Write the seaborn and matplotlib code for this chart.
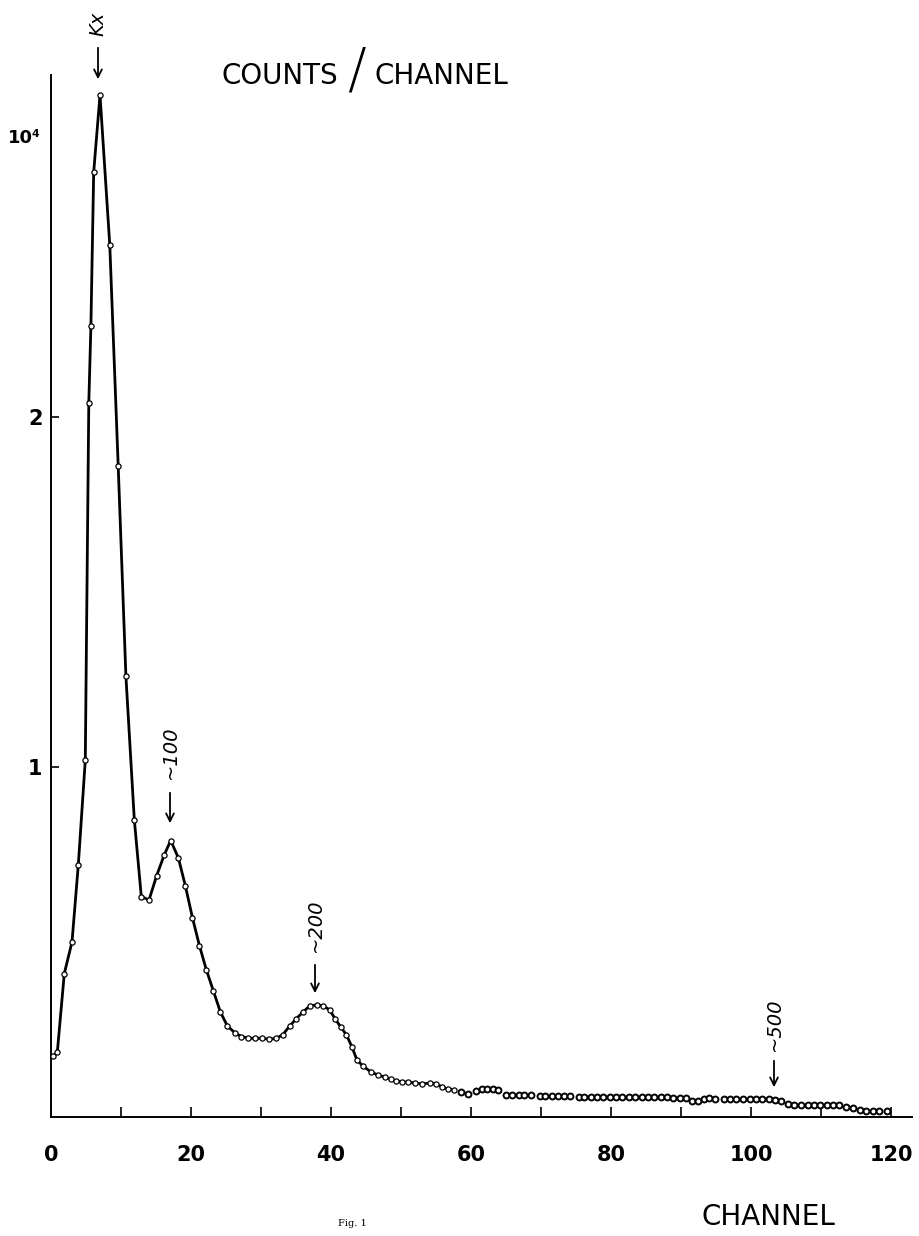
import numpy as np
import pandas as pd
import matplotlib
matplotlib.use("Agg")
import matplotlib.pyplot as plt
import seaborn as sns

sns.set_theme(style="white")
plt.rcParams['font.family'] = ['DejaVu Sans']
plt.rcParams['text.color'] = 'black'
plt.rcParams['xtick.color'] = 'black'
plt.rcParams['ytick.color'] = 'black'
plt.rcParams['axes.labelcolor'] = 'black'

# ---- data (counts in units of 10^4) ----
line_channel = [0.3, 0.9, 1.9, 3.0, 3.9, 4.9, 5.4, 5.7, 6.1, 7.0, 8.4, 9.6, 10.7, 11.9,
                12.9, 14.0, 15.1, 16.2, 17.1, 18.2, 19.2, 20.2, 21.2, 22.2, 23.2, 24.2,
                25.2, 26.3, 27.2, 28.2, 29.2, 30.2, 31.2, 32.2, 33.1, 34.1, 35.0, 36.0,
                37.0, 38.0, 38.9, 39.8, 40.6, 41.4, 42.2, 43.0, 43.7, 44.6, 45.7, 46.7,
                47.7, 48.5, 49.3, 50.2, 51.0, 52.0, 53.0, 54.2, 55.0, 55.9, 56.7, 57.6]
line_counts = [0.175, 0.185, 0.41, 0.50, 0.72, 1.02, 2.04, 2.26, 2.70, 2.92, 2.49, 1.86,
               1.26, 0.85, 0.63, 0.62, 0.69, 0.75, 0.79, 0.74, 0.66, 0.57, 0.49, 0.42,
               0.36, 0.30, 0.26, 0.24, 0.23, 0.225, 0.225, 0.225, 0.222, 0.225, 0.235,
               0.26, 0.28, 0.30, 0.318, 0.32, 0.318, 0.306, 0.28, 0.257, 0.235, 0.20,
               0.163, 0.145, 0.129, 0.12, 0.114, 0.108, 0.103, 0.10, 0.10, 0.097, 0.095,
               0.097, 0.094, 0.086, 0.08, 0.077]

tail_channel = [58.6, 59.6, 60.7, 61.5, 62.3, 63.1, 63.9, 65.0, 65.9, 66.8, 67.6, 68.5,
                69.8, 70.6, 71.5, 72.4, 73.3, 74.2, 75.4, 76.2, 77.1, 78.0, 78.9, 79.8,
                80.7, 81.6, 82.5, 83.4, 84.4, 85.3, 86.2, 87.1, 88.0, 88.9, 89.8, 90.7,
                91.6, 92.4, 93.3, 94.0, 94.9, 96.1, 97.0, 97.9, 98.8, 99.8, 100.7, 101.6,
                102.5, 103.4, 104.3, 105.3, 106.2, 107.2, 108.1, 109.0, 109.9, 110.8,
                111.7, 112.6, 113.6, 114.5, 115.5, 116.4, 117.4, 118.3, 119.4]
tail_counts = [0.072, 0.066, 0.074, 0.079, 0.080, 0.080, 0.077, 0.064, 0.064, 0.064, 0.064,
               0.064, 0.059, 0.059, 0.059, 0.059, 0.059, 0.059, 0.058, 0.058, 0.058, 0.058,
               0.058, 0.058, 0.057, 0.057, 0.057, 0.057, 0.057, 0.056, 0.056, 0.056, 0.056,
               0.055, 0.055, 0.053, 0.045, 0.045, 0.052, 0.054, 0.052, 0.052, 0.052, 0.052,
               0.052, 0.052, 0.052, 0.052, 0.052, 0.050, 0.045, 0.038, 0.035, 0.033, 0.033,
               0.033, 0.033, 0.033, 0.033, 0.033, 0.030, 0.026, 0.020, 0.018, 0.018, 0.018,
               0.018]

x_ticks = [0, 20, 40, 60, 80, 100, 120]
x_minor = [10, 30, 50, 70, 90, 110]
y_ticks = [1, 2]
y_ticklabels = ["1", "2"]

# ---- figure ----
W, H = 919, 1236
fig = plt.figure(figsize=(W / 100, H / 100), dpi=100)
fig.patch.set_facecolor("white")
ax = fig.add_axes([51 / W, 119 / H, 861 / W, 1042 / H])
ax.set_facecolor("white")

line_df = pd.DataFrame({"channel": line_channel, "counts": line_counts})
tail_df = pd.DataFrame({"channel": tail_channel, "counts": tail_counts})

sns.lineplot(data=line_df, x="channel", y="counts", ax=ax, color="black",
             linewidth=2.0, sort=False, zorder=2)
sns.scatterplot(data=line_df, x="channel", y="counts", ax=ax, marker="o", s=14,
                facecolor="white", edgecolor="black", linewidth=0.9, zorder=3)
sns.scatterplot(data=tail_df, x="channel", y="counts", ax=ax, marker="o", s=18,
                facecolor="white", edgecolor="black", linewidth=1.4, zorder=3)

ax.set_xlim(0, 861 / 7)
ax.set_ylim(0, 1042 / 350)
ax.set_xlabel("")
ax.set_ylabel("")
sns.despine(ax=ax)
for s in ["left", "bottom"]:
    ax.spines[s].set_color("black")
    ax.spines[s].set_linewidth(1.4)

ax.set_xticks(x_ticks)
ax.set_xticks(x_minor, minor=True)
ax.set_xticklabels([str(t) for t in x_ticks], fontweight="bold", fontsize=15)
ax.set_yticks(y_ticks)
ax.set_yticklabels(y_ticklabels, fontweight="bold", fontsize=15)
ax.tick_params(axis="x", which="both", direction="in", length=7, width=1.2,
               color="black", labelcolor="black", pad=20, bottom=True)
ax.tick_params(axis="y", which="both", direction="in", length=6, width=1.2,
               color="black", labelcolor="black", pad=6, left=True)
ax.grid(False)


def fx(px):
    return px / W


def fy(py):
    return 1 - py / H


# scale label
fig.text(fx(24), fy(138), "10⁴", fontsize=13, fontweight="bold", ha="center",
         va="center", color="black")

# title
fig.text(fx(280), fy(76), "COUNTS", fontsize=20, ha="center", va="center", color="black")
fig.text(fx(357), fy(72), "/", fontsize=40, ha="center", va="center",
         fontweight="light", color="black")
fig.text(fx(441), fy(76), "CHANNEL", fontsize=20, ha="center", va="center", color="black")

# bottom axis title
fig.text(fx(768), fy(1217), "CHANNEL", fontsize=20, ha="center", va="center", color="black")
fig.text(fx(352), fy(1224), "Fig. 1", fontsize=7, ha="center", va="center",
         family="DejaVu Serif", color="black")

# peak annotations
labels = [("Kx", 98, 24, 45, 82), ("~100", 170, 752, 790, 826),
          ("~200", 315, 925, 962, 996), ("~500", 774, 1024, 1058, 1090)]
for txt, x, yt, y0, y1 in labels:
    fig.text(fx(x), fy(yt), txt, rotation=90, fontsize=14, style="italic",
             ha="center", va="center", fontweight="light", color="black")
    ax.annotate("", xy=(fx(x), fy(y1)), xytext=(fx(x), fy(y0)),
                xycoords="figure fraction", textcoords="figure fraction",
                arrowprops=dict(arrowstyle="->", color="black", lw=1.3,
                                mutation_scale=14),
                annotation_clip=False)

fig.savefig("out.png", dpi=100, facecolor="white")
